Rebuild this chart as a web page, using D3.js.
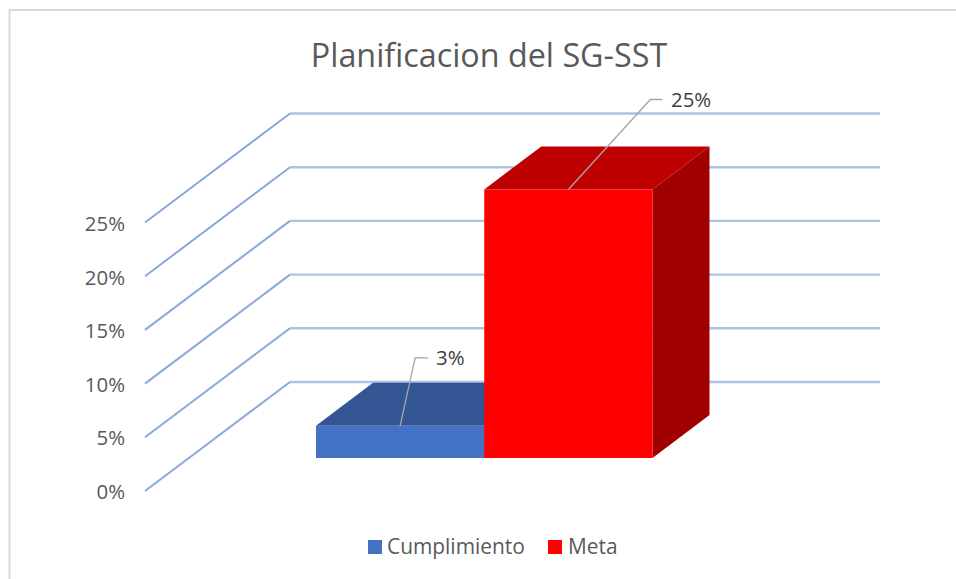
<!DOCTYPE html>
<html><head><meta charset="utf-8">
<script src="https://cdn.jsdelivr.net/npm/d3@7"></script>
<style>html,body{margin:0;padding:0;background:#fff;overflow:hidden}svg{display:block}text{font-family:"Open Sans",sans-serif}</style>
</head><body><svg id="c" width="956" height="579"></svg>
<script>
const chartTitle = "Planificacion del SG-SST";
const categories = ["Cumplimiento", "Meta"];
const values = [3, 25];
const ticks = [0, 5, 10, 15, 20, 25];
const barColors = ["#4472c4", "#ff0000"];
const topColors = ["#335593", "#bf0000"];
const sideColors = ["#264070", "#a00000"];

const svg = d3.select("#c");
svg.append("path").attr("d","M956 10H9.5V579").attr("fill","none").attr("stroke","#d9d9d9").attr("stroke-width",2);

svg.append("text").attr("x",489).attr("y",67).attr("text-anchor","middle")
  .attr("font-size",32.3).attr("fill","#595959").text(chartTitle);

// 3D frame
const unit = d3.scaleLinear().domain([0,25]).range([0,268.5]);
const frontY = v => 491 - unit(v);
const backY = v => 382 - unit(v);
const gridG = svg.append("g");
gridG.selectAll("path.h").data(ticks).join("path").attr("class","h")
  .attr("d",d=>`M290 ${backY(d)}H880`).attr("fill","none").attr("stroke","#aec2e4").attr("stroke-width",2.4);
gridG.selectAll("path.d").data(ticks).join("path").attr("class","d")
  .attr("d",d=>`M145 ${frontY(d)}L290 ${backY(d)}`).attr("fill","none").attr("stroke","#8aa8dc").attr("stroke-width",2);

// axis labels
const axisScale = d3.scaleLinear().domain([0,25]).range([492,224]);
const axis = d3.axisLeft(axisScale).tickValues(ticks).tickFormat(d=>d+"%").tickSize(0).tickPadding(0);
const ag = svg.append("g").attr("transform","translate(125,0)").call(axis);
ag.select(".domain").remove();
ag.selectAll("text").attr("font-size",20.4).attr("fill","#595959").style("font-family",'"Open Sans",sans-serif');

// bars
const x = d3.scaleBand().domain(categories).range([316,652.5]);
const base = 458, dx = 57, dy = 43;
const bars = svg.append("g").selectAll("g").data(categories.map((c,i)=>({c,i,v:values[i]}))).join("g");
bars.append("path").attr("fill",d=>sideColors[d.i]).attr("d",d=>{
  const r=x(d.c)+x.bandwidth(), t=base-unit(d.v);
  return `M${r} ${t}l${dx} ${-dy}V${base-dy}L${r} ${base}Z`;});
bars.append("path").attr("fill",d=>topColors[d.i]).attr("d",d=>{
  const l=x(d.c), w=x.bandwidth(), t=base-unit(d.v);
  return `M${l} ${t}l${dx} ${-dy}h${w}l${-dx} ${dy}Z`;});
bars.append("rect").attr("fill",d=>barColors[d.i])
  .attr("x",d=>x(d.c)).attr("width",x.bandwidth())
  .attr("y",d=>base-unit(d.v)).attr("height",d=>unit(d.v));

// leader lines + data labels
const leaderRise = [68, 90], leaderRun = [15, 82], leaderTail = [13, 12], labelX = [436, 671], offs = [0, 0];
const lab = svg.append("g").selectAll("g").data(categories.map((c,i)=>({c,i,v:values[i]}))).join("g");
lab.append("path").attr("fill","none").attr("stroke","#a6a6a6").attr("stroke-width",1.3).attr("d",d=>{
  const sx=x(d.c)+x.bandwidth()/2, sy=base-unit(d.v);
  return `M${sx} ${sy}l${leaderRun[d.i]} ${-leaderRise[d.i]}h${leaderTail[d.i]}`;});
lab.append("text").attr("x",d=>labelX[d.i]).attr("y",d=>base-unit(d.v)-leaderRise[d.i]+7.5)
  .attr("font-size",20.4).attr("fill","#404040").text(d=>d.v+"%");

// legend
const legendX = [368, 548], legendText = [387, 568];
const leg = svg.append("g").selectAll("g").data(categories).join("g");
leg.append("rect").attr("x",(d,i)=>legendX[i]).attr("y",540).attr("width",14).attr("height",14).attr("fill",(d,i)=>barColors[i]);
leg.append("text").attr("x",(d,i)=>legendText[i]).attr("y",554).attr("font-size",20.9).attr("fill","#595959").text(d=>d);
</script></body></html>
